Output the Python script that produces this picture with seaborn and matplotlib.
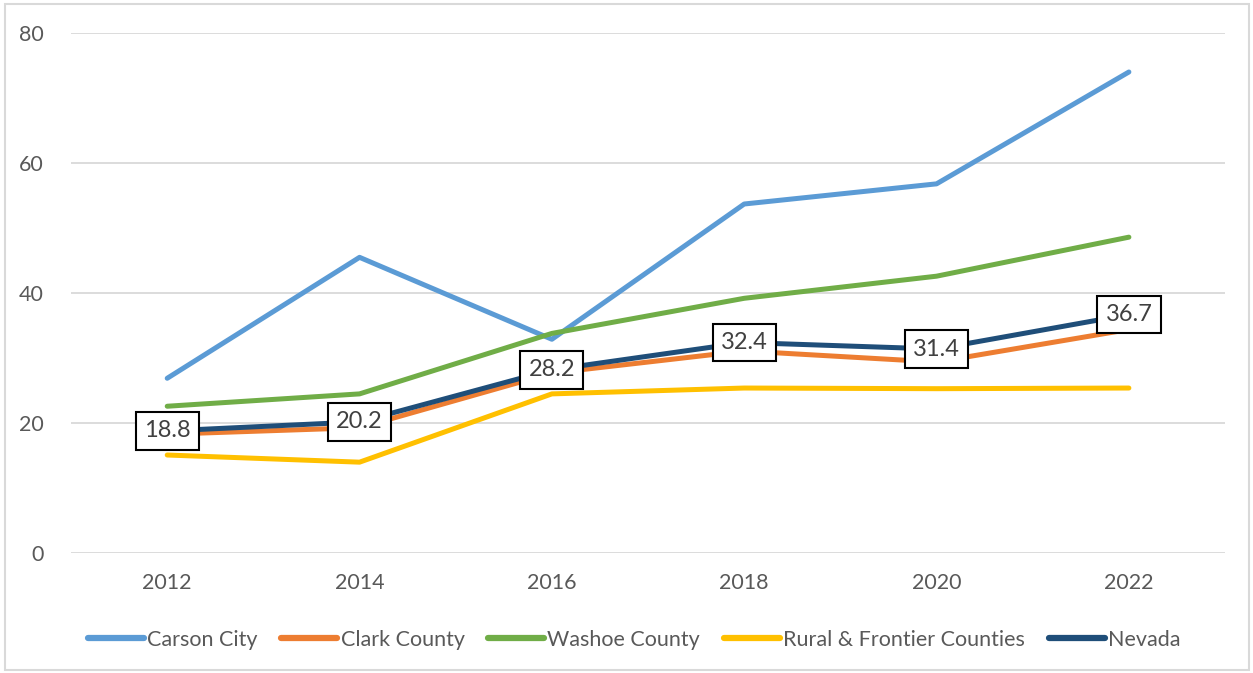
import pandas as pd
import matplotlib.pyplot as plt
import seaborn as sns
from matplotlib.patches import Rectangle

# Values
years = ["2012", "2014", "2016", "2018", "2020", "2022"]
carson_city = [26.9, 45.5, 32.9, 53.7, 56.8, 74.0]
clark_county = [18.3, 19.3, 27.7, 31.1, 29.4, 34.4]
washoe_county = [22.6, 24.5, 33.8, 39.2, 42.6, 48.6]
rural_frontier = [15.1, 14.0, 24.5, 25.4, 25.3, 25.4]
nevada = [18.8, 20.2, 28.2, 32.4, 31.4, 36.7]

series_names = ["Carson City", "Clark County", "Washoe County",
                "Rural & Frontier Counties", "Nevada"]
colors = ["#5B9BD5", "#ED7D31", "#70AD47", "#FFC000", "#1F4E79"]

rows = []
for name, vals in zip(series_names,
                      [carson_city, clark_county, washoe_county, rural_frontier, nevada]):
    for yr, v in zip(years, vals):
        rows.append({"year": yr, "value": v, "series": name})
df = pd.DataFrame(rows)

sns.set_style("white")
plt.rcParams["font.family"] = ["Lato", "DejaVu Sans"]
text_color = "#595959"

fig = plt.figure(figsize=(12.53, 6.73), dpi=100)
ax = fig.add_axes([0.0567, 0.178, 0.921, 0.773])

sns.lineplot(data=df, x="year", y="value", hue="series", hue_order=series_names,
             palette=colors, linewidth=3.6, ax=ax, sort=False)

# data labels on Nevada
for i, v in enumerate(nevada):
    ax.text(i, v, f"{v:.1f}", ha="center", va="center", fontsize=17, color="#404040",
            bbox=dict(boxstyle="square,pad=0.35", fc="white", ec="black", lw=1.5), zorder=10)

ax.set_xlim(-0.5, 5.5)
ax.set_ylim(0, 80)
ax.set_yticks([0, 20, 40, 60, 80])
ax.yaxis.grid(True, color="#D9D9D9", linewidth=1.3)
ax.set_axisbelow(True)
for s in ax.spines.values():
    s.set_visible(False)
ax.set_xlabel("")
ax.set_ylabel("")
ax.tick_params(axis="both", length=0, labelsize=15.5, labelcolor=text_color)
ax.tick_params(axis="y", pad=20)
ax.tick_params(axis="x", pad=14)

ax.legend(loc="upper center", bbox_to_anchor=(0.488, -0.11), ncol=5, frameon=False,
          fontsize=15.5, handlelength=2.6, handletextpad=0.15, columnspacing=1.1,
          labelcolor=text_color)
for line in ax.get_legend().get_lines():
    line.set_linewidth(4.5)
    line.set_solid_capstyle("round")

fig.patches.append(Rectangle((0.004, 0.004), 0.993, 0.99, transform=fig.transFigure,
                             fill=False, ec="#D9D9D9", lw=1.5))

fig.savefig("out.png", dpi=100)
